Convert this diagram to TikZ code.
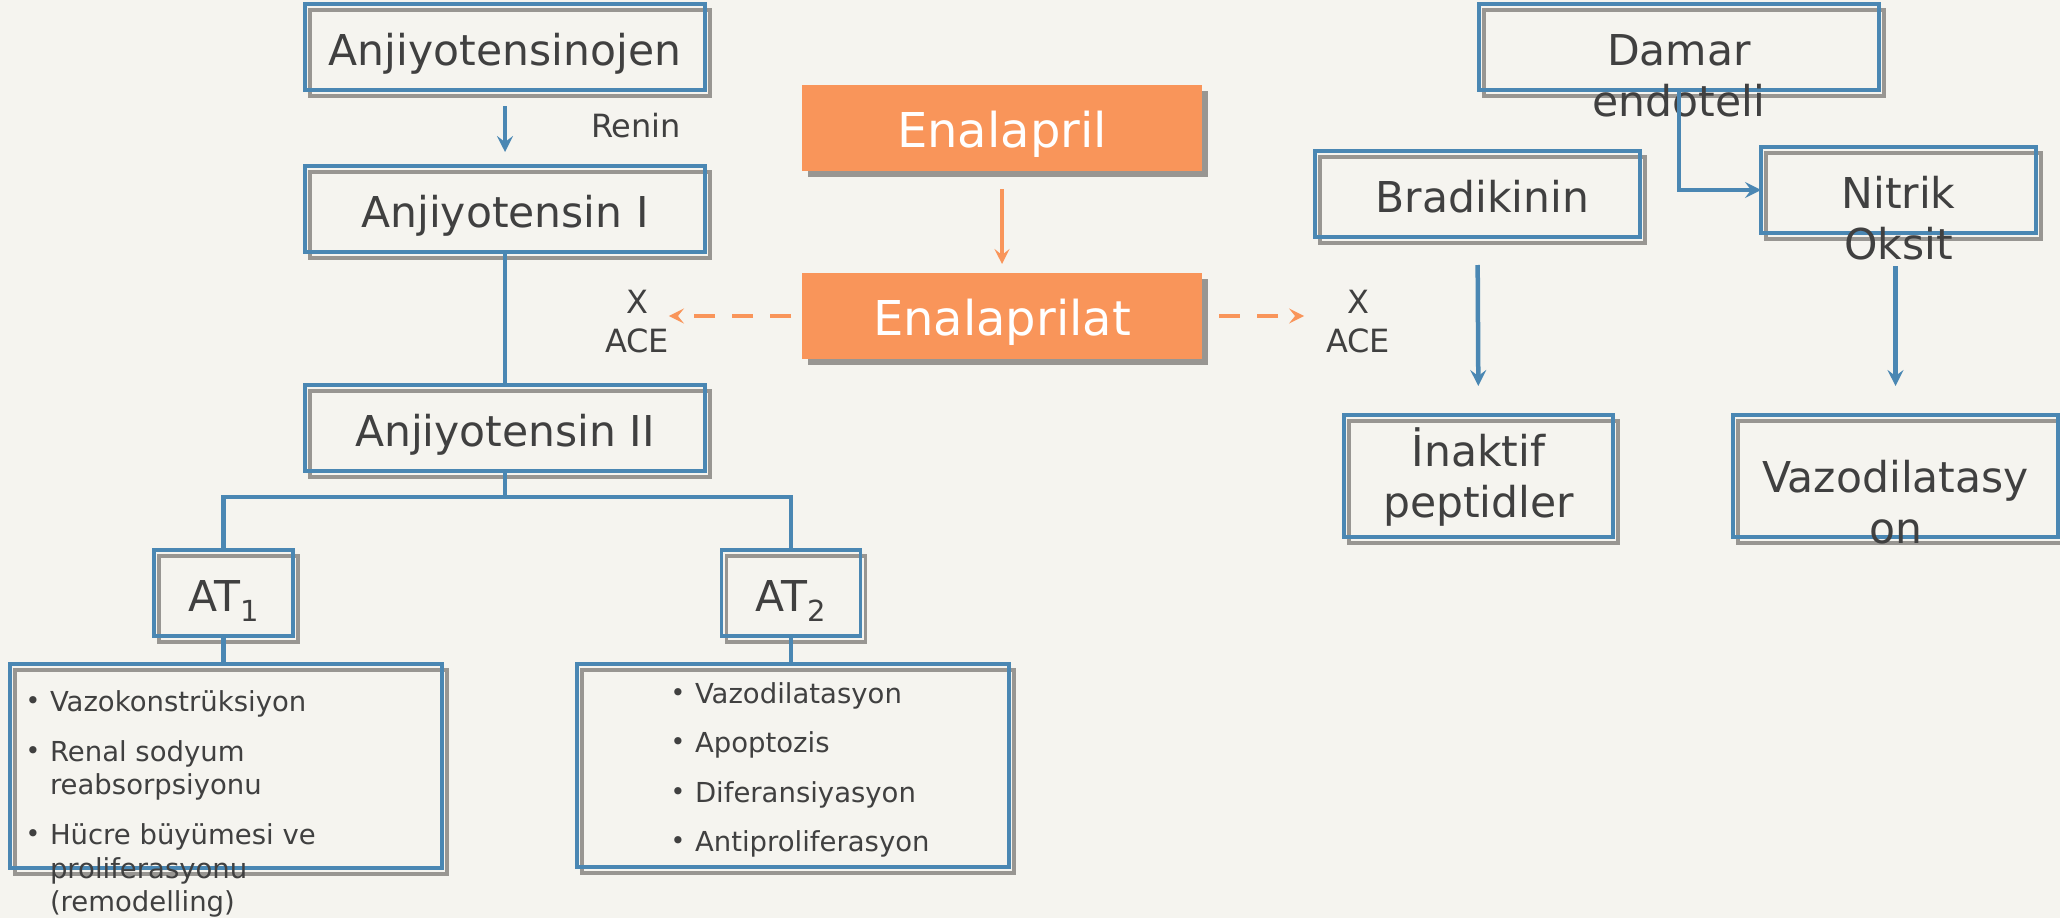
\documentclass[tikz,border=0pt]{standalone}
\usepackage{fontspec}
\setmainfont{DejaVu Sans}
\usetikzlibrary{arrows.meta,calc}

\definecolor{cbg}{HTML}{F5F4EF}
\definecolor{cblue}{HTML}{4A87B3}
\definecolor{corange}{HTML}{F9955A}
\definecolor{cshadow}{HTML}{989692}
\definecolor{ctext}{HTML}{404040}

\pgfdeclarelayer{backdrop}
\pgfdeclarelayer{shade}
\pgfsetlayers{backdrop,shade,main}

% font sizes (1pt = 1px of the final picture)
\newcommand\fBox{\fontsize{42.5}{51}\selectfont}
\newcommand\fDrug{\fontsize{48}{56}\selectfont}
\newcommand\fLabel{\fontsize{32}{39}\selectfont}
\newcommand\fList{\fontsize{27.5}{33.5}\selectfont}
% stacked lines whose baseline is the first line
\newcommand\cLines[1]{\begin{tabular}[t]{@{}c@{}}#1\end{tabular}}
\newcommand\bul{\makebox[18pt]{\raisebox{2pt}{\fontsize{25}{25}\selectfont •}}\hspace{8pt}}

\tikzset{
  bluebox/.style={draw=cblue, line width=3.5pt, inner sep=0pt, outer sep=0pt,
    text=ctext, font=\fBox, text height=36pt, text depth=0pt},
  drugbox/.style={fill=corange, inner sep=0pt, outer sep=0pt, text=white,
    font=\fDrug, text height=38pt, text depth=0pt},
  std/.style={minimum width=400pt, minimum height=86pt},
  txt/.style={text=ctext, inner sep=0pt, outer sep=0pt},
  conn/.style={draw=cblue, line width=4.5pt},
  arr/.style={conn, -{Stealth[length=16pt,width=16pt,inset=6pt]}},
  oarr/.style={draw=corange, line width=4.5pt, -{Stealth[length=15pt,width=15pt,inset=6pt]}},
  odash/.style={oarr, dash pattern=on 21pt off 17pt},
  shadowline/.style={draw=cshadow, line width=3.5pt},
}

\begin{document}
\begin{tikzpicture}[x=1pt, y=-1pt]
\useasboundingbox (0,0) rectangle (2060,918);
\begin{pgfonlayer}{backdrop}
  \fill[cbg] (0,0) rectangle (2060,918);
\end{pgfonlayer}

% renin-angiotensin chain
\node[bluebox, std] (ajn) at (505,47) {Anjiyotensinojen};
\node[bluebox, std] (aj1) at (505,209) {Anjiyotensin I};
\node[bluebox, std] (aj2) at (505,428) {Anjiyotensin II};
\node[txt, font=\fLabel, anchor=base] (renin) at (636,137) {Renin};

% receptors
\node[bluebox, minimum width=139pt, minimum height=86pt] (at1) at (223.5,593)
  {AT\raisebox{-10pt}{\fontsize{29}{29}\selectfont 1}};
\node[bluebox, minimum width=139pt, minimum height=86pt] (at2) at (791,593)
  {AT\raisebox{-10pt}{\fontsize{29}{29}\selectfont 2}};

% effect lists
\node[bluebox, minimum width=432pt, minimum height=204pt] (l1) at (226,766) {};
\node[bluebox, minimum width=432pt, minimum height=203pt] (l2) at (793,765.5) {};
\node[txt, font=\fList, anchor=base west] (l1t) at (24,711) {%
  \begin{tabular}[t]{@{}l@{}}
    \bul Vazokonstrüksiyon\\[16.5pt]
    \bul Renal sodyum\\
    \hspace{26pt}reabsorpsiyonu\\[16.5pt]
    \bul Hücre büyümesi ve\\
    \hspace{26pt}proliferasyonu\\
    \hspace{26pt}(remodelling)
  \end{tabular}};
\node[txt, font=\fList, anchor=base west] (l2t) at (669,703) {%
  \begin{tabular}[t]{@{}l@{}}
    \bul Vazodilatasyon\\[16pt]
    \bul Apoptozis\\[16pt]
    \bul Diferansiyasyon\\[16pt]
    \bul Antiproliferasyon
  \end{tabular}};

% drug
\node[drugbox, std] (enp) at (1002,128) {Enalapril};
\node[drugbox, std] (enpt) at (1002,316) {Enalaprilat};
\node[txt, font=\fLabel, anchor=base] (xl) at (637,313) {\cLines{X\\ACE}};
\node[txt, font=\fLabel, anchor=base] (xr) at (1358,313) {\cLines{X\\ACE}};

% kinin side
\node[bluebox, std] (dam) at (1679,47) {\cLines{Damar\\endoteli}};
\node[bluebox, minimum width=325pt, minimum height=86pt] (brd) at (1477.5,194) {\hspace*{10pt}Bradikinin};
\node[bluebox, minimum width=275pt, minimum height=86pt] (nox) at (1898.5,190) {\cLines{Nitrik\\Oksit}};
\node[bluebox, minimum width=269pt, minimum height=122pt, text depth=56pt] (ina) at (1478.5,476) {\cLines{İnaktif\\peptidler}};
\node[bluebox, minimum width=325pt, minimum height=122pt, text height=32pt] (vaz) at (1895.5,476) {\cLines{Vazodilatasy\\on}};

% shadows behind the outlined and filled boxes
\begin{pgfonlayer}{shade}
  \foreach \n in {ajn,aj1,aj2,at1,at2,l1,l2,dam,brd,nox,ina,vaz}
    \draw[shadowline] ($(\n.north west)+(5,6)$) rectangle ($(\n.south east)+(5,6)$);
  \foreach \n in {enp,enpt}
    \fill[cshadow] ($(\n.north west)+(6,6)$) rectangle ($(\n.south east)+(6,6)$);
\end{pgfonlayer}

% connectors
\draw[arr, shorten <=16pt, shorten >=14pt] (ajn.south) -- (aj1.north);
\draw[conn] (aj1.south) -- (aj2.north);
\draw[conn] (aj2.south) -- ++(0,26) coordinate (jn);
\draw[conn] (at1.north) |- (jn) -| (at2.north);
\draw[conn] (at1.south) -- (at1.south |- l1.north);
\draw[conn] (at2.south) -- (at2.south |- l2.north);

\draw[oarr, shorten <=18pt, shorten >=9pt] (enp.south) -- (enpt.north);
\draw[odash, shorten <=11pt] (enpt.west) -- (enpt.west -| xl.east);
\draw[odash, shorten <=17pt, shorten >=22pt] (enpt.east) -- (enpt.east -| xr.west);

\draw[arr] (dam.south) |- (nox.west);
\draw[arr, shorten <=28pt, shorten >=29pt] (brd.south) -- (ina.north);
\draw[arr, shorten <=33pt, shorten >=29pt] (vaz.north |- nox.south) -- (vaz.north);
\end{tikzpicture}
\end{document}
